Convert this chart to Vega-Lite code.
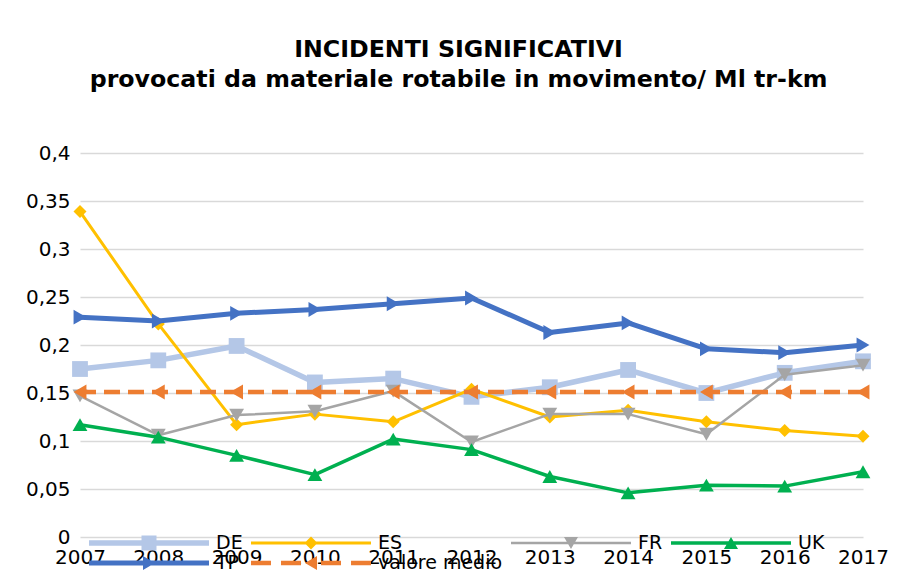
{
  "$schema": "https://vega.github.io/schema/vega-lite/v6.json",
  "autosize": {"type": "none"},
  "width": 783,
  "height": 384,
  "padding": {"left": 80, "top": 153, "right": 35, "bottom": 39},
  "background": "white",
  "config": {"font": "DejaVu Sans", "view": {"stroke": null}},
  "title": {
    "text": ["INCIDENTI SIGNIFICATIVI", "provocati da materiale rotabile in movimento/ Ml tr-km"],
    "font": "DejaVu Sans",
    "fontSize": 23.7,
    "fontWeight": "bold",
    "color": "#000000",
    "lineHeight": 30,
    "anchor": "middle",
    "dx": -13,
    "offset": 51
  },
  "data": {
    "values": [
      {"year": "2007", "series": "DE", "value": 0.175},
      {"year": "2008", "series": "DE", "value": 0.184},
      {"year": "2009", "series": "DE", "value": 0.199},
      {"year": "2010", "series": "DE", "value": 0.161},
      {"year": "2011", "series": "DE", "value": 0.165},
      {"year": "2012", "series": "DE", "value": 0.146},
      {"year": "2013", "series": "DE", "value": 0.156},
      {"year": "2014", "series": "DE", "value": 0.174},
      {"year": "2015", "series": "DE", "value": 0.15},
      {"year": "2016", "series": "DE", "value": 0.171},
      {"year": "2017", "series": "DE", "value": 0.183},
      {"year": "2007", "series": "ES", "value": 0.339},
      {"year": "2008", "series": "ES", "value": 0.222},
      {"year": "2009", "series": "ES", "value": 0.117},
      {"year": "2010", "series": "ES", "value": 0.128},
      {"year": "2011", "series": "ES", "value": 0.12},
      {"year": "2012", "series": "ES", "value": 0.154},
      {"year": "2013", "series": "ES", "value": 0.125},
      {"year": "2014", "series": "ES", "value": 0.132},
      {"year": "2015", "series": "ES", "value": 0.12},
      {"year": "2016", "series": "ES", "value": 0.111},
      {"year": "2017", "series": "ES", "value": 0.105},
      {"year": "2007", "series": "FR", "value": 0.147},
      {"year": "2008", "series": "FR", "value": 0.106},
      {"year": "2009", "series": "FR", "value": 0.127},
      {"year": "2010", "series": "FR", "value": 0.131},
      {"year": "2011", "series": "FR", "value": 0.152},
      {"year": "2012", "series": "FR", "value": 0.099},
      {"year": "2013", "series": "FR", "value": 0.128},
      {"year": "2014", "series": "FR", "value": 0.128},
      {"year": "2015", "series": "FR", "value": 0.107},
      {"year": "2016", "series": "FR", "value": 0.169},
      {"year": "2017", "series": "FR", "value": 0.179},
      {"year": "2007", "series": "UK", "value": 0.117},
      {"year": "2008", "series": "UK", "value": 0.104},
      {"year": "2009", "series": "UK", "value": 0.085},
      {"year": "2010", "series": "UK", "value": 0.065},
      {"year": "2011", "series": "UK", "value": 0.102},
      {"year": "2012", "series": "UK", "value": 0.091},
      {"year": "2013", "series": "UK", "value": 0.063},
      {"year": "2014", "series": "UK", "value": 0.046},
      {"year": "2015", "series": "UK", "value": 0.054},
      {"year": "2016", "series": "UK", "value": 0.053},
      {"year": "2017", "series": "UK", "value": 0.068},
      {"year": "2007", "series": "TP", "value": 0.229},
      {"year": "2008", "series": "TP", "value": 0.225},
      {"year": "2009", "series": "TP", "value": 0.233},
      {"year": "2010", "series": "TP", "value": 0.237},
      {"year": "2011", "series": "TP", "value": 0.243},
      {"year": "2012", "series": "TP", "value": 0.249},
      {"year": "2013", "series": "TP", "value": 0.213},
      {"year": "2014", "series": "TP", "value": 0.223},
      {"year": "2015", "series": "TP", "value": 0.196},
      {"year": "2016", "series": "TP", "value": 0.192},
      {"year": "2017", "series": "TP", "value": 0.2},
      {"year": "2007", "series": "valore medio", "value": 0.151},
      {"year": "2008", "series": "valore medio", "value": 0.151},
      {"year": "2009", "series": "valore medio", "value": 0.151},
      {"year": "2010", "series": "valore medio", "value": 0.151},
      {"year": "2011", "series": "valore medio", "value": 0.151},
      {"year": "2012", "series": "valore medio", "value": 0.151},
      {"year": "2013", "series": "valore medio", "value": 0.151},
      {"year": "2014", "series": "valore medio", "value": 0.151},
      {"year": "2015", "series": "valore medio", "value": 0.151},
      {"year": "2016", "series": "valore medio", "value": 0.151},
      {"year": "2017", "series": "valore medio", "value": 0.151}
    ]
  },
  "encoding": {
    "x": {
      "field": "year",
      "type": "ordinal",
      "scale": {"type": "point", "padding": 0},
      "axis": {
        "title": null,
        "labelAngle": 0,
        "labelFontSize": 20,
        "labelColor": "#000000",
        "labelPadding": 10,
        "ticks": false,
        "domain": false,
        "grid": false
      }
    },
    "y": {
      "field": "value",
      "type": "quantitative",
      "scale": {"domain": [0, 0.4], "nice": false, "zero": true},
      "axis": {
        "title": null,
        "values": [0, 0.05, 0.1, 0.15, 0.2, 0.25, 0.3, 0.35, 0.4],
        "labelExpr": "replace(toString(datum.value), '.', ',')",
        "labelFontSize": 20,
        "labelColor": "#000000",
        "labelPadding": 10,
        "ticks": false,
        "tickSize": 0,
        "domain": false,
        "grid": true,
        "gridColor": "#D9D9D9",
        "gridWidth": 1.5
      }
    }
  },
  "layer": [
    {"transform": [{"filter": "datum.series === 'DE'"}], "mark": {"type": "line", "color": "#B4C7E7", "strokeWidth": 5.5, "strokeJoin": "round"}, "encoding": {}},
    {"transform": [{"filter": "datum.series === 'DE'"}], "mark": {"type": "point", "shape": "square", "filled": true, "opacity": 1, "size": 250, "color": "#B4C7E7", "strokeWidth": 0}, "encoding": {}},
    {"transform": [{"filter": "datum.series === 'ES'"}], "mark": {"type": "line", "color": "#FFC000", "strokeWidth": 3, "strokeJoin": "round"}, "encoding": {}},
    {"transform": [{"filter": "datum.series === 'ES'"}], "mark": {"type": "point", "shape": "diamond", "filled": true, "opacity": 1, "size": 170, "color": "#FFC000", "strokeWidth": 0}, "encoding": {}},
    {"transform": [{"filter": "datum.series === 'FR'"}], "mark": {"type": "line", "color": "#A5A5A5", "strokeWidth": 2.5, "strokeJoin": "round"}, "encoding": {}},
    {"transform": [{"filter": "datum.series === 'FR'"}], "mark": {"type": "point", "shape": "triangle-down", "filled": true, "opacity": 1, "size": 220, "color": "#A5A5A5", "strokeWidth": 0}, "encoding": {}},
    {"transform": [{"filter": "datum.series === 'UK'"}], "mark": {"type": "line", "color": "#00B050", "strokeWidth": 3.5, "strokeJoin": "round"}, "encoding": {}},
    {"transform": [{"filter": "datum.series === 'UK'"}], "mark": {"type": "point", "shape": "triangle-up", "filled": true, "opacity": 1, "size": 220, "color": "#00B050", "strokeWidth": 0}, "encoding": {}},
    {"transform": [{"filter": "datum.series === 'TP'"}], "mark": {"type": "line", "color": "#4472C4", "strokeWidth": 5, "strokeJoin": "round"}, "encoding": {}},
    {"transform": [{"filter": "datum.series === 'TP'"}], "mark": {"type": "point", "shape": "triangle-right", "filled": true, "opacity": 1, "size": 220, "color": "#4472C4", "strokeWidth": 0}, "encoding": {}},
    {"transform": [{"filter": "datum.series === 'valore medio'"}], "mark": {"type": "line", "color": "#ED7D31", "strokeWidth": 4.5, "strokeDash": [16, 8]}, "encoding": {}},
    {"transform": [{"filter": "datum.series === 'valore medio'"}], "mark": {"type": "point", "shape": "triangle-left", "filled": true, "opacity": 1, "size": 220, "color": "#ED7D31", "strokeWidth": 0}, "encoding": {}},
    {
      "transform": [{"filter": "false"}],
      "mark": {"type": "point", "filled": true, "opacity": 1, "size": 14400, "strokeWidth": 0},
      "encoding": {
        "color": {
          "field": "series",
          "type": "nominal",
          "scale": {"domain": ["DE", "ES", "FR", "UK", "TP", "valore medio"], "range": ["#B4C7E7", "#FFC000", "#A5A5A5", "#00B050", "#4472C4", "#ED7D31"]},
          "legend": {
            "title": null,
            "orient": "none",
            "direction": "horizontal",
            "legendX": 9,
            "legendY": 380,
            "columns": 4,
            "padding": 0,
            "symbolSize": 14400,
            "symbolStrokeWidth": 0,
            "symbolOpacity": 1,
            "clipHeight": 20,
            "rowPadding": 0,
            "columnPadding": 8,
            "labelOffset": 7,
            "labelFontSize": 19,
            "labelColor": "#000000",
            "labelLimit": 300
          }
        },
        "shape": {
          "field": "series",
          "type": "nominal",
          "scale": {
            "domain": ["DE", "ES", "FR", "UK", "TP", "valore medio"],
            "range": [
              "M-1,-0.046H1V0.046H-1ZM-0.125,-0.125H0.125V0.125H-0.125Z",
              "M-1,-0.025H1V0.025H-1ZM-0.108,0L0,-0.108L0.108,0L0,0.108Z",
              "M-1,-0.021H1V0.021H-1ZM-0.117,-0.1L0.117,-0.1L0,0.1Z",
              "M-1,-0.029H1V0.029H-1ZM-0.117,0.1L0,-0.1L0.117,0.1Z",
              "M-1,-0.042H1V0.042H-1ZM-0.1,-0.117L0.1,0L-0.1,0.117Z",
              "M-1,-0.0375H-0.667V0.0375H-1ZM-0.5,-0.0375H-0.167V0.0375H-0.5ZM0.167,-0.0375H0.5V0.0375H0.167ZM0.667,-0.0375H1V0.0375H0.667ZM-0.1,0L0.1,-0.117L0.1,0.117Z"
            ]
          },
          "legend": {
            "title": null,
            "orient": "none",
            "direction": "horizontal",
            "legendX": 9,
            "legendY": 380,
            "columns": 4,
            "padding": 0,
            "symbolSize": 14400,
            "symbolStrokeWidth": 0,
            "symbolOpacity": 1,
            "clipHeight": 20,
            "rowPadding": 0,
            "columnPadding": 8,
            "labelOffset": 7,
            "labelFontSize": 19,
            "labelColor": "#000000",
            "labelLimit": 300
          }
        }
      }
    }
  ]
}
